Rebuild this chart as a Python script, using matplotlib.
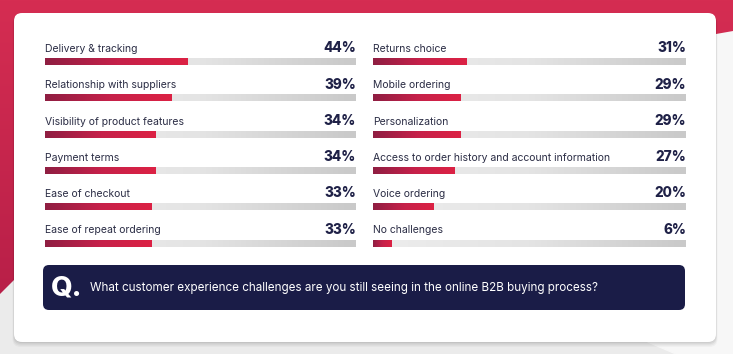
import numpy as np
import matplotlib.pyplot as plt
from matplotlib.patches import FancyBboxPatch, Polygon
from matplotlib.colors import LinearSegmentedColormap

plt.rcParams['font.family'] = ['Inter', 'DejaVu Sans']

left_labels = ['Delivery & tracking', 'Relationship with suppliers',
               'Visibility of product features', 'Payment terms',
               'Ease of checkout', 'Ease of repeat ordering']
left_values = [44, 39, 34, 34, 33, 33]

right_labels = ['Returns choice', 'Mobile ordering', 'Personalization',
                'Access to order history and account information',
                'Voice ordering', 'No challenges']
right_values = [31, 29, 29, 27, 20, 6]

question = 'What customer experience challenges are you still seeing in the online B2B buying process?'

W, H = 733, 354
fig = plt.figure(figsize=(W / 100, H / 100), dpi=100)

# background + card, in pixel coords
bg = fig.add_axes([0, 0, 1, 1])
bg.set_xlim(0, W)
bg.set_ylim(H, 0)
bg.axis('off')
bg.add_patch(plt.Rectangle((0, 0), W, H, color='#ebebeb', zorder=0))
bg.add_patch(Polygon([(716, 34), (733, 31), (733, 354), (676, 354), (648, 342)],
                     color='#f7f7f7', zorder=1))

red_cmap = LinearSegmentedColormap.from_list('red', ['#d52d52', '#b81f48'])
grad = np.linspace(0, 1, 200).reshape(-1, 1)
im = bg.imshow(grad, extent=[0, W, 300, 0], cmap=red_cmap, aspect='auto', zorder=2)
red_shape = Polygon([(0, 0), (W, 0), (W, 31), (716, 34), (14, 280), (0, 294)],
                    transform=bg.transData, facecolor='none', edgecolor='none')
bg.add_patch(red_shape)
im.set_clip_path(red_shape)

for k, a in enumerate([0.05, 0.05, 0.04, 0.03]):
    bg.add_patch(FancyBboxPatch((14 - k * 0.5, 13 + 1 + k * 0.5), 702 + k, 329 + k * 0.8,
                                boxstyle='round,pad=0,rounding_size=8',
                                facecolor='black', alpha=a, edgecolor='none', zorder=3))
bg.add_patch(FancyBboxPatch((14, 13), 702, 329, boxstyle='round,pad=0,rounding_size=8',
                            facecolor='white', edgecolor='none', zorder=4))

bg.add_patch(FancyBboxPatch((43, 265), 642, 45, boxstyle='round,pad=0,rounding_size=6',
                            facecolor='#1a1c47', edgecolor='none', zorder=5))
bg.text(51, 288.5, 'Q.', color='white', fontsize=20, fontweight='heavy',
        va='center', ha='left', zorder=6)
bg.text(90, 288, question, color='white', fontsize=8.4, va='center', ha='left', zorder=6)

bar_cmap = LinearSegmentedColormap.from_list('bar', ['#8f1e42', '#c5214a', '#dc2244'])
track_cmap = LinearSegmentedColormap.from_list('track', ['#ededed', '#e4e4e4', '#c9c9c9'])
hgrad = np.linspace(0, 1, 256).reshape(1, -1)


def column(x0, x1, labels, values, xmax):
    top, bottom = 43.85, 261.65
    ax = fig.add_axes([x0 / W, (H - bottom) / H, (x1 - x0) / W, (bottom - top) / H])
    ax.axis('off')
    ax.patch.set_alpha(0)
    hh = 0.085
    for i, (lab, v) in enumerate(zip(labels, values)):
        ax.imshow(hgrad, extent=[0, xmax, i + hh, i - hh], cmap=track_cmap,
                  aspect='auto', zorder=1)
        ax.imshow(hgrad, extent=[0, v, i + hh, i - hh], cmap=bar_cmap,
                  aspect='auto', zorder=2)
        ax.text(0, i - 0.36, lab, fontsize=7.5, color='#2b2d45', va='center', ha='left')
        ax.text(xmax, i - 0.38, f'{v}%', fontsize=9.8, fontweight='heavy',
                color='#1f2147', va='center', ha='right')
    ax.set_xlim(0, xmax)
    ax.set_ylim(len(labels) - 0.5, -0.5)


column(45, 356, left_labels, left_values, 96)
column(373, 686, right_labels, right_values, 104)

fig.savefig('out.png', dpi=100)
